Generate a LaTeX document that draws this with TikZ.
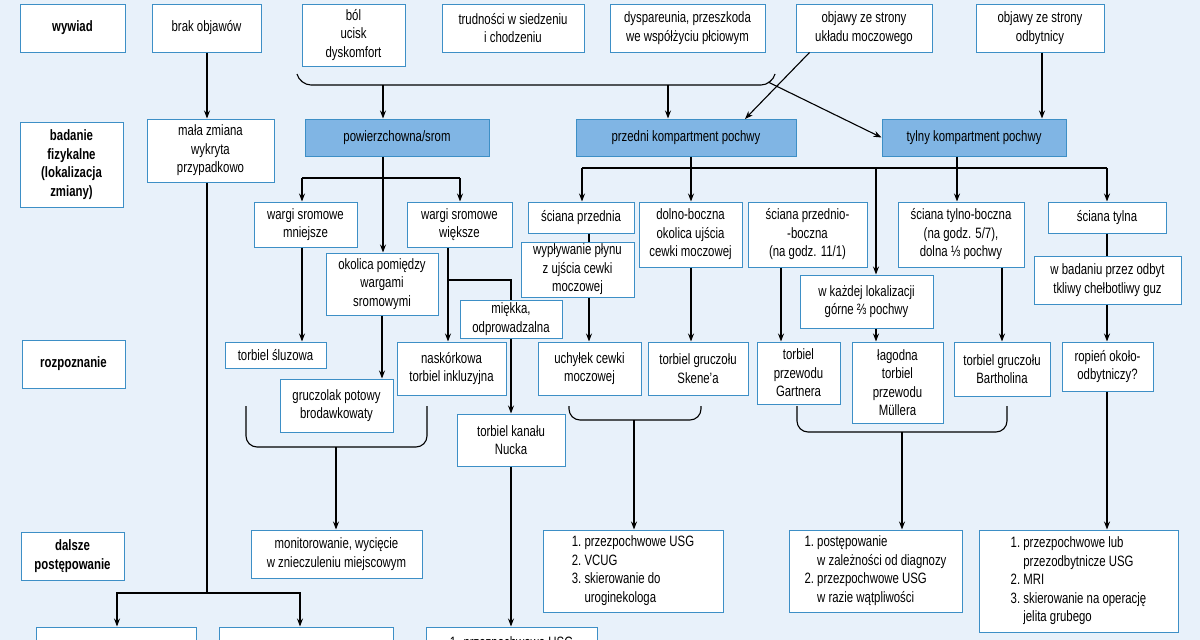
\documentclass[tikz,border=0pt]{standalone}
\usepackage{fontspec}
\setmainfont{Liberation Sans}[FakeStretch=0.76]
\usetikzlibrary{arrows.meta}
\definecolor{bgblue}{HTML}{E8F1FA}
\definecolor{edgeblue}{HTML}{3D8FC6}
\definecolor{headblue}{HTML}{80B5E4}
\tikzset{
  box/.style={draw=edgeblue, line width=1pt, fill=white, align=center, inner sep=1pt,
    font=\fontsize{15}{18.5}\selectfont},
  headbox/.style={box, fill=headblue},
  rowlabel/.style={box, font=\fontsize{15}{18.5}\selectfont\bfseries},
  arr/.style={-{Stealth[length=8pt,width=6pt]}, line width=1.1pt},
  ln/.style={line width=1.1pt},
  brace/.style={line width=1.1pt, rounded corners=11pt}
}
% box from corner (x1,y1) to (x2,y2), in pixels
\newcommand\bx[7][box]{\node[#1, minimum width={(#5-#3)*1pt}, minimum height={(#6-#4)*1pt}]
  (#2) at ({(#3+#5)/2},{(#4+#6)/2}) {#7};}
\begin{document}
\begin{tikzpicture}[x=1pt,y=-1pt]
\fill[bgblue] (0,0) rectangle (1200,640);
\useasboundingbox (0,0) rectangle (1200,640);
% row labels
\bx[rowlabel]{wywiad}{20}{4}{125}{52}{wywiad}
\bx[rowlabel]{badanie}{20}{122}{123}{207}{badanie\\fizykalne\\(lokalizacja\\zmiany)}
\bx[rowlabel]{rozp}{22}{340}{125}{388}{rozpoznanie}
\bx[rowlabel]{dalsze}{21}{532}{124}{580}{dalsze\\postępowanie}
% wywiad
\bx{brak}{152}{4}{261}{52}{brak objawów}
\bx{bol}{302}{4}{405}{66}{ból\\ucisk\\dyskomfort}
\bx{trud}{442}{4}{584}{52}{trudności w siedzeniu\\i chodzeniu}
\bx{dysp}{610}{4}{765}{52}{dyspareunia, przeszkoda\\we współżyciu płciowym}
\bx{mocz}{796}{4}{932}{52}{objawy ze strony\\układu moczowego}
\bx{odbyt}{976}{4}{1104}{52}{objawy ze strony\\odbytnicy}
% badanie fizykalne
\bx{mala}{147}{119}{274}{182}{mała zmiana\\wykryta\\przypadkowo}
\bx[headbox]{pow}{305}{119}{489}{156}{powierzchowna/srom}
\bx[headbox]{przedni}{576}{119}{796}{156}{przedni kompartment pochwy}
\bx[headbox]{tylny}{882}{119}{1066}{156}{tylny kompartment pochwy}
\bx{wmn}{254}{202}{357}{247}{wargi sromowe\\mniejsze}
\bx{wwi}{407}{202}{512}{247}{wargi sromowe\\większe}
\bx{okol}{326}{253}{438}{315}{okolica pomiędzy\\wargami\\sromowymi}
\bx{sprz}{528}{202}{634}{233}{ściana przednia}
\bx{wypl}{521}{242}{634}{297}{wypływanie płynu\\z ujścia cewki\\moczowej}
\bx{dolno}{639}{202}{742}{267}{dolno-boczna\\okolica ujścia\\cewki moczowej}
\bx{sprb}{748}{202}{867}{267}{ściana przednio-\\-boczna\\(na godz. 11/1)}
\bx{kazda}{800}{275}{933}{328}{w każdej lokalizacji\\górne ⅔ pochwy}
\bx{styb}{898}{202}{1024}{267}{ściana tylno-boczna\\(na godz. 5/7),\\dolna ⅓ pochwy}
\bx{styl}{1048}{202}{1166}{233}{ściana tylna}
\bx{wbad}{1034}{256}{1181}{304}{w badaniu przez odbyt\\tkliwy chełbotliwy guz}
\bx{miek}{460}{300}{562}{338}{miękka,\\odprowadzalna}
% rozpoznanie
\bx{sluz}{225}{342}{326}{368}{torbiel śluzowa}
\bx{grucz}{280}{379}{393}{432}{gruczolak potowy\\brodawkowaty}
\bx{nask}{397}{342}{506}{395}{naskórkowa\\torbiel inkluzyjna}
\bx{nucka}{457}{414}{565}{466}{torbiel kanału\\Nucka}
\bx{uchyl}{538}{342}{641}{395}{uchyłek cewki\\moczowej}
\bx{skene}{648}{342}{748}{395}{torbiel gruczołu\\Skene’a}
\bx{gart}{757}{342}{840}{404}{torbiel\\przewodu\\Gartnera}
\bx{mull}{852}{342}{943}{423}{łagodna\\torbiel\\przewodu\\Müllera}
\bx{barth}{954}{342}{1050}{396}{torbiel gruczołu\\Bartholina}
\bx{ropien}{1062}{342}{1153}{391}{ropień około-\\odbytniczy?}
% dalsze postepowanie
\bx{monit}{251}{530}{422}{578}{monitorowanie, wycięcie\\w znieczuleniu miejscowym}
\bx[box, align=left]{usgA}{543}{530}{723}{612}{\begin{tabular}{@{}r@{\ }l@{}}1.&przezpochwowe USG\\2.&VCUG\\3.&skierowanie do\\&uroginekologa\end{tabular}}
\bx[box, align=left]{usgB}{789}{530}{962}{612}{\begin{tabular}{@{}r@{\ }l@{}}1.&postępowanie\\&w zależności od diagnozy\\2.&przezpochwowe USG\\&w razie wątpliwości\end{tabular}}
\bx[box, align=left]{usgC}{979}{530}{1178}{632}{\begin{tabular}{@{}r@{\ }l@{}}1.&przezpochwowe lub\\&przezodbytnicze USG\\2.&MRI\\3.&skierowanie na operację\\&jelita grubego\end{tabular}}
\bx{dolA}{36}{627}{196}{665}{}
\bx{dolB}{219}{627}{393}{665}{}
\bx{dolC}{426}{627}{597}{660}{1. przezpochwowe USG}
% bracket under the symptoms
\draw[brace] (297,74) -- (300,85) -- (772,85) -- (775,74);
\coordinate (brL) at (383,85);
\coordinate (brM) at (668,85);
\coordinate (brR) at (768,82);
\draw[arr] (brL) -- (pow.north -| brL);
\draw[arr] (brM) -- (brM |- przedni.north);
\draw[arr] (brR) -- (tylny.west);
\draw[arr] (mocz.south west) ++(14,0) coordinate (m1) -- (745,119);
\draw[arr] (odbyt.south -| 1042,0) -- (tylny.north -| 1042,0);
% left column
\draw[arr] (brak.south -| 207,0) -- (mala.north -| 207,0);
\draw[ln] (mala.south -| 207,0) -- (207,593) coordinate (mb);
\draw[arr] (mb) -| (dolA.north -| 117,0);
\draw[arr] (mb) -| (dolB.north -| 300,0);
% powierzchowna
\draw[arr] (pow.south -| 383,0) -- (okol.north -| 383,0);
\draw[ln] (302,178) -- (460,178);
\draw[arr] (302,178) -- (wmn.north -| 302,0);
\draw[arr] (460,178) -- (wwi.north -| 460,0);
\draw[arr] (wmn.south -| 302,0) -- (sluz.north -| 302,0);
\draw[arr] (okol.south -| 382,0) -- (grucz.north -| 382,0);
\draw[arr] (wwi.south -| 448,0) -- (nask.north -| 448,0);
\draw[ln] (448,280) -| (miek.north -| 511,0);
\draw[arr] (miek.south -| 511,0) -- (nucka.north -| 511,0);
\draw[arr] (nucka.south -| 511,0) -- (dolC.north -| 511,0);
\draw[brace] (246,406) -- (246,447) -- (427,447) -- (427,406);
\draw[arr] (336,447) -- (monit.north -| 336,0);
% przedni / tylny
\draw[ln] (przedni.south -| 691,0) -- (691,168);
\draw[ln] (tylny.south -| 957,0) -- (957,168);
\draw[ln] (582,168) -- (1107,168);
\draw[arr] (582,168) -- (sprz.north -| 582,0);
\draw[arr] (691,168) -- (dolno.north -| 691,0);
\draw[arr] (876,168) -- (kazda.north -| 876,0);
\draw[arr] (957,168) -- (styb.north -| 957,0);
\draw[arr] (1107,168) -- (styl.north -| 1107,0);
\draw[ln] (sprz.south -| 589,0) -- (wypl.north -| 589,0);
\draw[arr] (wypl.south -| 589,0) -- (uchyl.north -| 589,0);
\draw[arr] (dolno.south -| 691,0) -- (skene.north -| 691,0);
\draw[arr] (sprb.south -| 781,0) -- (gart.north -| 781,0);
\draw[arr] (kazda.south -| 876,0) -- (mull.north -| 876,0);
\draw[arr] (styb.south -| 1002,0) -- (barth.north -| 1002,0);
\draw[ln] (styl.south -| 1107,0) -- (wbad.north -| 1107,0);
\draw[arr] (wbad.south -| 1107,0) -- (ropien.north -| 1107,0);
\draw[brace] (569,406) -- (569,420) -- (701,420) -- (701,406);
\draw[arr] (634,420) -- (usgA.north -| 634,0);
\draw[brace] (797,406) -- (797,432) -- (1007,432) -- (1007,406);
\draw[arr] (902,432) -- (usgB.north -| 902,0);
\draw[arr] (ropien.south -| 1107,0) -- (usgC.north -| 1107,0);
\end{tikzpicture}
\end{document}
